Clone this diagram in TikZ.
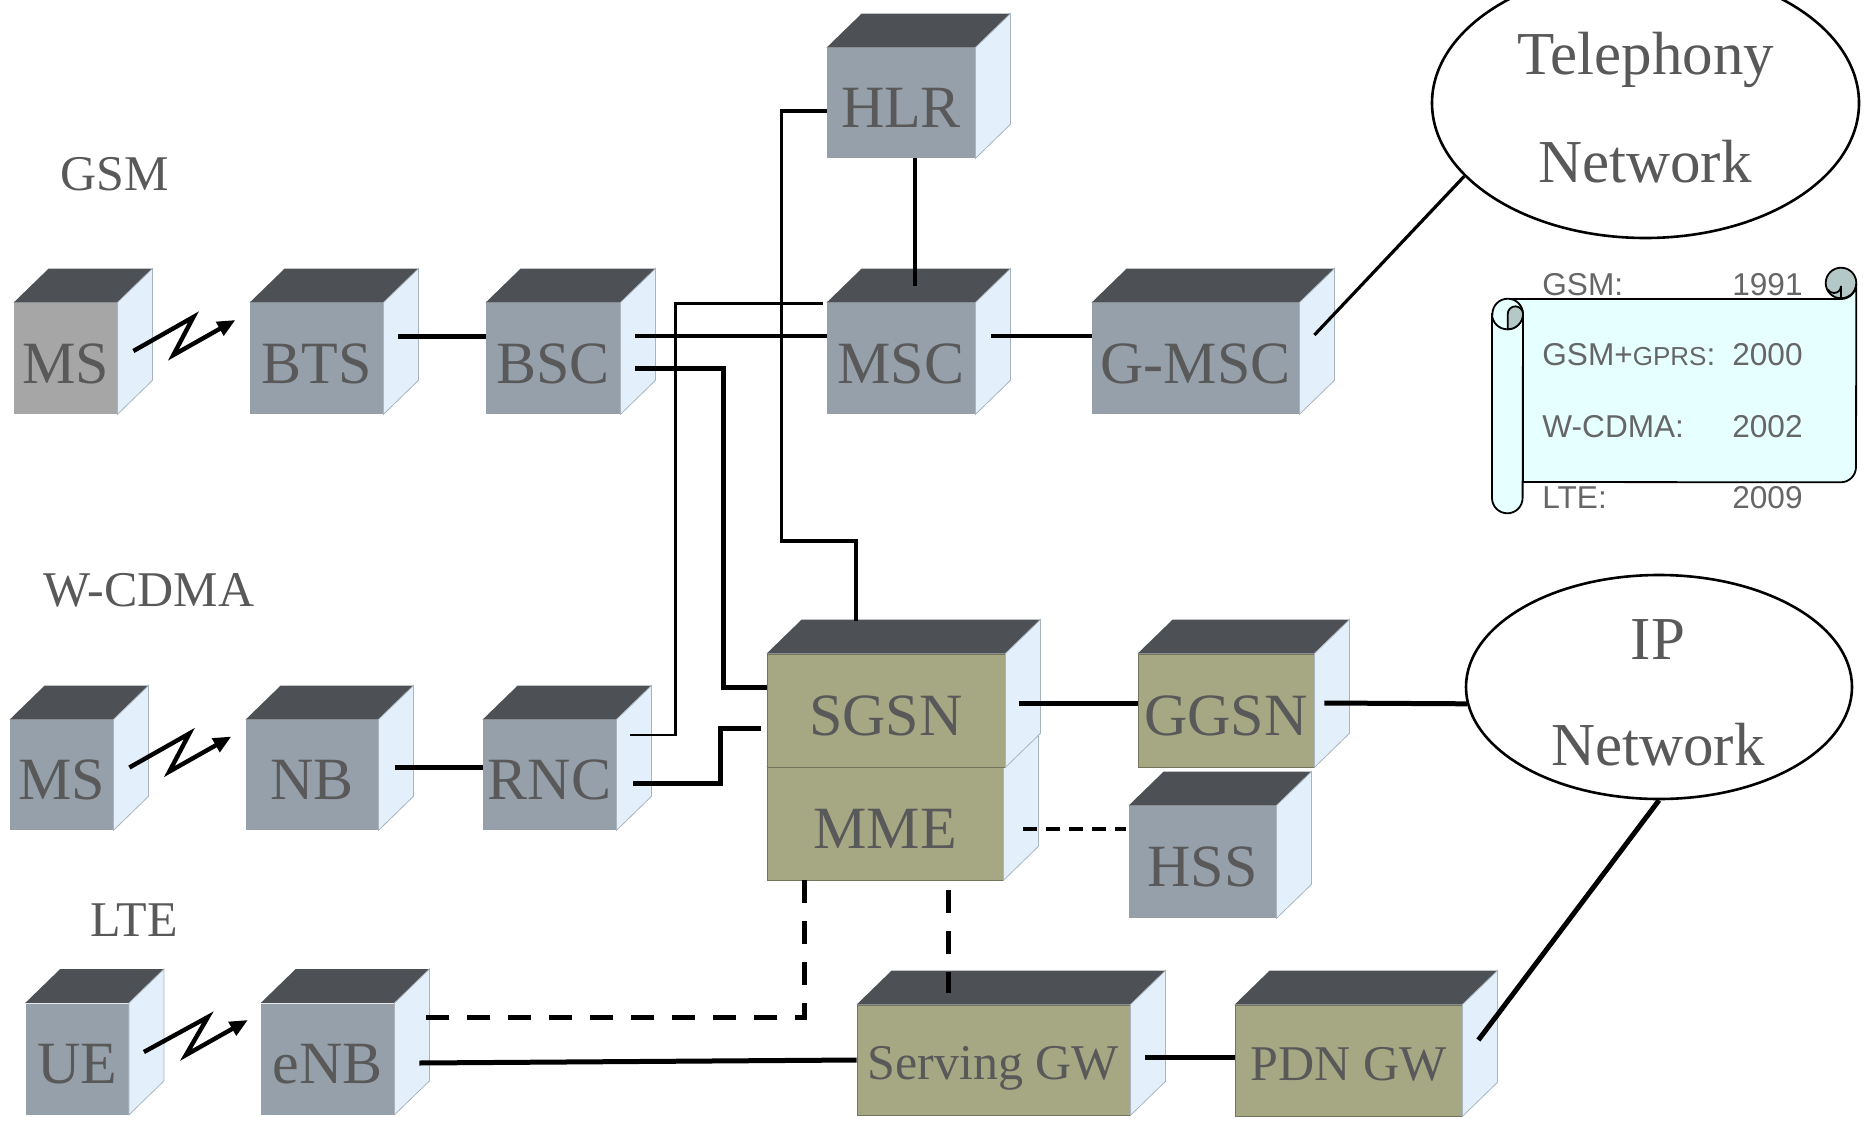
\documentclass[tikz,border=0pt]{standalone}
\usepackage{fontspec}
\setmainfont{Liberation Serif}
\newfontfamily\legfont{Liberation Sans}
\usepackage{tikz}
\usetikzlibrary{arrows.meta,positioning,calc,shapes.geometric}
\definecolor{netslate}{HTML}{96A0AA}
\definecolor{netstone}{HTML}{A6A6A6}
\definecolor{netolive}{HTML}{A5A883}
\definecolor{nettop}{HTML}{4D5156}
\definecolor{netside}{HTML}{E3F0FC}
\definecolor{netedge}{HTML}{A9B4BE}
\definecolor{netink}{HTML}{595959}
\definecolor{netleg}{HTML}{666666}
\definecolor{netpaper}{HTML}{E6FFFF}
\definecolor{netroll}{HTML}{B4C8C8}
\tikzset{
  wh/.style 2 args={minimum width=#1*0.5pt, minimum height=#2*0.5pt},
  unit/.style={rectangle, inner sep=0pt, text height=24.5pt, text depth=0pt, text=netink, font=\fontsize{30}{36}\selectfont},
  gnd/.style={unit, fill=netslate},
  ms/.style={unit, fill=netstone},
  core/.style={unit, fill=netolive, draw=netolive!70!black, line width=0.4pt},
  gw/.style={core, text height=19.5pt, font=\fontsize{25}{30}\selectfont},
  netcloud/.style={ellipse, draw, line width=1.3pt, fill=white, inner sep=0pt},
  cltxt/.style={anchor=base, text=netink, font=\fontsize{30.5}{36}\selectfont},
  era/.style={anchor=base, text=netink, font=\fontsize{25}{30}\selectfont},
  leg/.style={text=netleg, inner sep=0pt, font=\legfont\fontsize{15.8}{18}\selectfont},
  roof/.style={fill=nettop},
  sd/.style={fill=netside, draw=netedge, line width=0.4pt},
  thn/.style={line width=1.2pt},
  med/.style={line width=1.6pt},
  thk/.style={line width=2.5pt},
  dsh/.style={med, dash pattern=on 7pt off 4.5pt},
  dshk/.style={thk, dash pattern=on 11.5pt off 9pt},
  air/.style={line width=2.2pt, -{Triangle[length=9pt,width=7.5pt]}},
  scr/.style={fill=netpaper, draw, line width=0.9pt},
}
\newcommand{\cubefaces}[1]{%
  \fill[roof] (#1.north west) -- ++(35,-34) -- ($(#1.north east)+(35,-34)$) -- (#1.north east) -- cycle;
  \filldraw[sd] (#1.north east) -- ++(35,-34) -- ($(#1.south east)+(35,-34)$) -- (#1.south east) -- cycle;}

\begin{document}
\begin{tikzpicture}[x=0.5pt, y=-0.5pt]
\useasboundingbox (0,0) rectangle (1865,1124);

\node[netcloud, wh={427}{270}] (tel) at (1645.5,103) {};
\node[cltxt] (teltop) at (1646,75) {Telephony};
\node[cltxt] (telbot) at (1645,182) {Network};
\node[netcloud, wh={386}{224}] (ip) at (1659,687) {};
\node[cltxt] (iptop) at (1658,659) {IP};
\node[cltxt] (ipbot) at (1658,765) {Network};

% scroll
\filldraw[scr, fill=netroll] (1841,283) circle[radius=15.3];
\filldraw[scr] (1507,299) -- (1841,299) arc[start angle=90,end angle=0,radius=15.3] -- (1856,467) arc[start angle=0,end angle=90,radius=15.3] -- (1523,482) -- (1523,314) -- cycle;
\draw[line width=0.9pt] (1841,299) -- (1841,286) arc[start angle=0,end angle=150,radius=7];
\filldraw[scr] (1492,314) -- (1492,498) arc[start angle=180,end angle=0,radius=15.3] -- (1523,314) arc[start angle=0,end angle=-180,radius=15.3] -- cycle;
\draw[line width=0.9pt] (1492,314) arc[start angle=180,end angle=0,radius=15.3];
\filldraw[scr, fill=netroll] (1507.7,314) arc[start angle=180,end angle=360,radius=7.65] arc[start angle=0,end angle=90,radius=15.3] -- cycle;
\node[leg, anchor=base west] (kgsm) at (1542,295) {GSM:};
\node[leg, anchor=base east] (ygsm) at (1803,295) {1991};
\node[leg, anchor=base west] (kgprs) at (1542,365) {GSM+{\fontsize{13}{15}\selectfont GPRS}:};
\node[leg, anchor=base east] (ygprs) at (1803,365) {2000};
\node[leg, anchor=base west] (kwcdma) at (1542,437) {W-CDMA:};
\node[leg, anchor=base east] (ywcdma) at (1803,437) {2002};
\node[leg, anchor=base west] (klte) at (1542,508) {LTE:};
\node[leg, anchor=base east] (ylte) at (1803,508) {2009};

\node[era] (lgsm) at (115,190) {GSM};
\node[era] (lwcdma) at (149,606) {W-CDMA};
\node[era] (llte) at (134,936) {LTE};

\node[gnd, wh={148}{110}] (hlr) at (901,103) {HLR}; \cubefaces{hlr}
\node[ms, wh={103}{111}] (ms1) at (65.5,358.5) {MS}; \cubefaces{ms1}
\node[gnd, wh={133}{111}] (bts) at (316.5,358.5) {BTS}; \cubefaces{bts}
\node[gnd, wh={134}{111}] (bsc) at (553,358.5) {BSC}; \cubefaces{bsc}
\node[gnd, wh={148}{111}] (msc) at (901,358.5) {MSC}; \cubefaces{msc}
\node[gnd, wh={207}{111}] (gmsc) at (1195.5,358.5) {G-MSC}; \cubefaces{gmsc}
\node[gnd, wh={103}{110}] (ms2) at (61.5,775) {MS}; \cubefaces{ms2}
\node[gnd, wh={132}{110}] (nb) at (312,775) {NB}; \cubefaces{nb}
\node[gnd, wh={133}{110}] (rnc) at (549.5,775) {RNC}; \cubefaces{rnc}
\node[core, wh={236}{113}] (mme) at (885,823.5) {MME}; \cubefaces{mme}
\node[core, wh={238}{113}] (sgsn) at (886,710.5) {SGSN}; \cubefaces{sgsn}
\node[core, wh={176}{113}] (ggsn) at (1226,710.5) {GGSN}; \cubefaces{ggsn}
\node[gnd, wh={147}{112}] (hss) at (1202.5,862) {HSS}; \cubefaces{hss}
\node[gnd, wh={103}{111}] (ue) at (77,1059) {UE}; \cubefaces{ue}
\node[gnd, wh={133}{111}] (enb) at (327.5,1059) {eNB}; \cubefaces{enb}
\node[gw, wh={273}{110}] (sgw) at (993.5,1060) {Serving GW}; \cubefaces{sgw}
\node[gw, wh={227}{111}] (pdn) at (1348.5,1060.5) {PDN GW}; \cubefaces{pdn}

\draw[air] ($(ms1.east)+(16,-7.5)$) -- ++(60,-34) -- ++(-20,38) -- ++(62,-35);
\draw[air] ($(ms2.east)+(16,-7.5)$) -- ++(60,-34) -- ++(-20,38) -- ++(62,-35);
\draw[air] ($(ue.east)+(15,-7)$) -- ++(64,-35) -- ++(-22,38) -- ++(62,-35);

\draw[thk] ($(bts.east)+(15,-22.5)$) -- ($(bsc.west)+(0,-22.5)$);
\draw[med] ($(bsc.east)+(15,-22.5)$) -- ($(msc.west)+(0,-22.5)$);
\draw[thk] ($(bsc.east)+(15,10)$) -- ++(88,0) |- ($(sgsn.west)+(0,-23)$);
\draw[thn] ($(rnc.east)+(14,-40)$) -- ++(45,0) |- ($(msc.north west)+(-4,1)$);
\draw[thk] ($(rnc.east)+(17,8)$) -- ++(87,0) |- ($(sgsn.west)+(-6,18)$);
\draw[thk] ($(nb.east)+(17,-8)$) -- ($(rnc.west)+(0,-8)$);
\draw[med] ($(hlr.west)+(0,8)$) -- ++(-45,0) -- ++(0,430) -| ($(sgsn.north)+(-30,-33)$);
\draw[med] ($(hlr.south)+(14,0)$) -- ($(msc.north)+(14,-17)$);
\draw[med] ($(msc.east)+(16,-22.5)$) -- ($(gmsc.west)+(0,-22.5)$);
\draw[med] ($(gmsc.east)+(15,-23.5)$) -- (tel.202);
\draw[thk] ($(sgsn.east)+(14,-7.5)$) -- ($(ggsn.west)+(0,-7.5)$);
\draw[thk] ($(ggsn.east)+(10,-7.5)$) -- (ip.185);
\draw[dsh] ($(mme.east)+(20,5.5)$) -- ($(hss.west)+(-3,-33)$);
\draw[dshk] ($(mme.south west)+(38,0)$) |- ($(enb.east)+(25,-42)$);
\draw[dshk] ($(mme.south)+(63,10)$) -- ($(sgw.north)+(-45.5,-12)$);
\draw[thk] ($(enb.east)+(25,4)$) -- (sgw.west);
\draw[thk] ($(sgw.east)+(15,-3)$) -- ($(pdn.west)+(0,-3.5)$);
\draw[thk] ($(pdn.east)+(16,-20.5)$) -- (ip.south);
\end{tikzpicture}
\end{document}
